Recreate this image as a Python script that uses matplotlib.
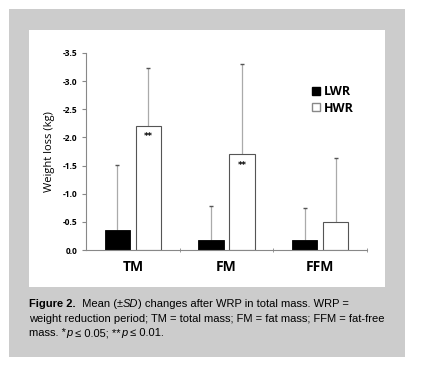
import matplotlib
matplotlib.use("Agg")
import matplotlib.pyplot as plt
from matplotlib.patches import Rectangle, Patch
import numpy as np

categories = ["TM", "FM", "FFM"]
lwr_mean = [-0.35, -0.18, -0.17]
lwr_sd = [1.16, 0.60, 0.57]
hwr_mean = [-2.21, -1.70, -0.49]
hwr_sd = [1.03, 1.60, 1.14]
hwr_sig = ["**", "**", ""]
yticks = [0.0, -0.5, -1.0, -1.5, -2.0, -2.5, -3.0, -3.5]

plt.rcParams["font.family"] = ["Open Sans", "DejaVu Sans"]

W, H = 422, 378
fig = plt.figure(figsize=(W / 100, H / 100), dpi=100)
fig.patch.set_facecolor("white")

def fx(px):
    return px / W

def fy(py):
    return 1 - py / H

# gray frame and white panel
fig.patches.append(Rectangle((fx(9), fy(357)), fx(405) - fx(9), fy(9) - fy(357),
                             transform=fig.transFigure, facecolor="#cccccc",
                             edgecolor="none", zorder=-10))
fig.patches.append(Rectangle((fx(29), fy(287)), fx(385) - fx(29), fy(30) - fy(287),
                             transform=fig.transFigure, facecolor="white",
                             edgecolor="none", zorder=-9))

ax = fig.add_axes([fx(86), fy(250), fx(367) - fx(86), fy(53) - fy(250)])
ax.set_facecolor("none")

x = np.arange(len(categories))
w = 0.272
off = 0.165

ax.bar(x - off, lwr_mean, width=w, color="black", edgecolor="black", linewidth=0.6, zorder=2)
ax.bar(x + off, hwr_mean, width=w, color="white", edgecolor="#555555", linewidth=0.8, zorder=2)

for xs, m, s in [(x - off, lwr_mean, lwr_sd), (x + off, hwr_mean, hwr_sd)]:
    m = np.array(m)
    s = np.array(s)
    ax.vlines(xs, m, m - s, color="#aaaaaa", linewidth=0.9, zorder=1)
    ax.plot(xs, m - s, linestyle="none", marker="_", markersize=3,
            markeredgewidth=1.0, color="#555555", zorder=3)

for xi, m, sig in zip(x + off, hwr_mean, hwr_sig):
    if sig:
        ax.text(xi, m + 0.2, sig, ha="center", va="center", fontsize=6,
                fontweight="bold", family="DejaVu Sans", zorder=4)

ax.set_xlim(-0.5, 2.5)
ax.set_ylim(0, -3.5)
ax.set_yticks(yticks)
ax.set_yticklabels([f"{t:.1f}" if t != 0 else "0.0" for t in yticks])
ax.set_xticks(x)
ax.set_xticklabels(categories, fontsize=10, fontweight="bold")
ax.set_xticks([0.5, 1.5, 2.5], minor=True)
ax.tick_params(axis="x", which="major", length=0, pad=7)
ax.tick_params(axis="x", which="minor", length=3, direction="inout", color="#888888")
ax.tick_params(axis="y", labelsize=6, length=3, color="#888888", pad=3)
for lab in ax.get_yticklabels():
    lab.set_fontweight("bold")

for sp in ["top", "right"]:
    ax.spines[sp].set_visible(False)
for sp in ["left", "bottom"]:
    ax.spines[sp].set_color("#888888")
    ax.spines[sp].set_linewidth(0.8)

ax.set_ylabel("Weight loss (kg)", fontsize=8, labelpad=6)

handles = [Patch(facecolor="black", edgecolor="black", label="LWR"),
           Patch(facecolor="white", edgecolor="#888888", label="HWR")]
leg = fig.legend(handles=handles, loc="upper left",
                 bbox_to_anchor=(fx(312), fy(85)), frameon=False,
                 prop={"size": 9, "weight": "bold"}, handlelength=0.6,
                 handleheight=0.6, handletextpad=0.35, labelspacing=0.3,
                 borderaxespad=0, borderpad=0)

# caption, drawn piece by piece so that bold / italic runs can be mixed
cap_lines = [
    [("Figure 2.", "bold", "normal"), ("  Mean (\u00b1", "normal", "normal"),
     ("SD", "normal", "italic"), (") changes after WRP in total mass. WRP =", "normal", "normal")],
    [("weight reduction period; TM = total mass; FM = fat mass; FFM = fat-free", "normal", "normal")],
    [("mass. *", "normal", "normal"), ("p", "normal", "italic"),
     (" \u2264 0.05; **", "normal", "normal"), ("p", "normal", "italic"),
     (" \u2264 0.01.", "normal", "normal")],
]
fig.canvas.draw()
renderer = fig.canvas.get_renderer()
cap_size = 8.0
for i, line in enumerate(cap_lines):
    xp = 29.0
    for txt, weight, style in line:
        t = fig.text(fx(xp), fy(304 + i * 14.5), txt, fontsize=cap_size,
                     family=["Liberation Sans", "DejaVu Sans"], fontweight=weight,
                     fontstyle=style, ha="left", va="center")
        bb = t.get_window_extent(renderer=renderer)
        xp += bb.width

fig.savefig("out.png", dpi=100)
